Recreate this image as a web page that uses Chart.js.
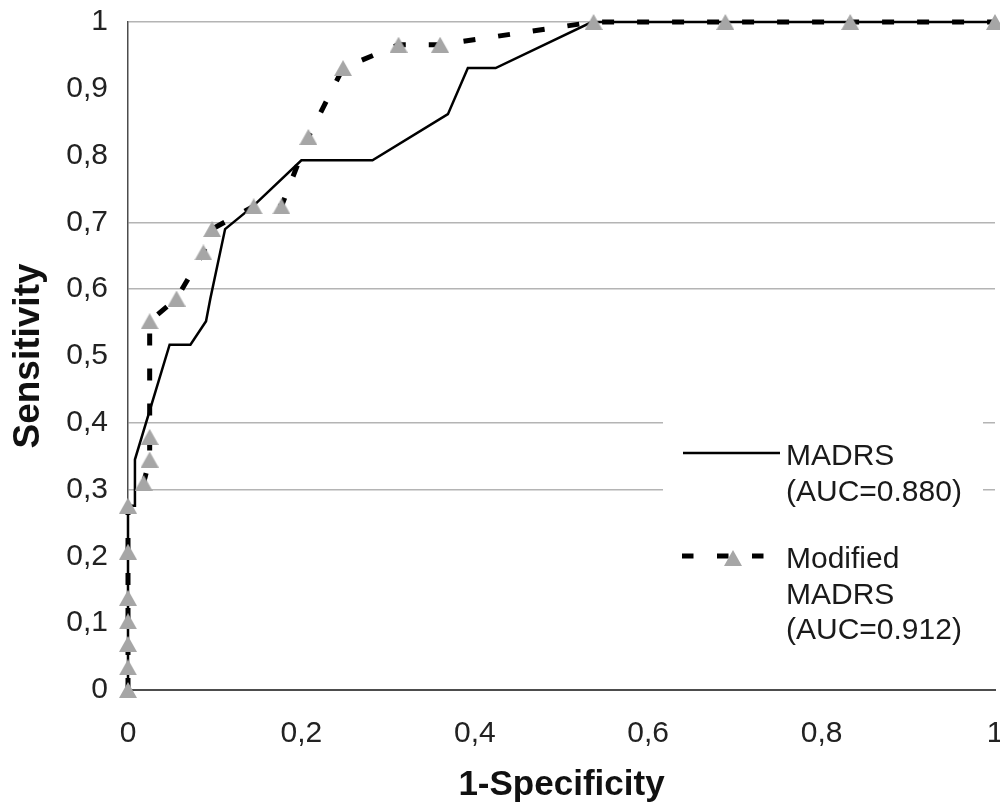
<!DOCTYPE html>
<html>
<head>
<meta charset="utf-8">
<title>ROC curves – MADRS vs Modified MADRS</title>
<script src="https://cdn.jsdelivr.net/npm/chart.js@4/dist/chart.umd.min.js"></script>
<style>
  html, body { margin: 0; padding: 0; background: #fff; overflow: hidden; }
  #wrap { width: 1000px; height: 808px; overflow: hidden; position: relative; }
  canvas { display: block; }
</style>
</head>
<body>
<div id="wrap"><canvas id="roc" width="1012" height="808"></canvas></div>
<script>
// ROC curve points: x = 1-specificity, y = sensitivity
const madrsFpr = [0, 0, 0.008, 0.008, 0.048, 0.072, 0.090, 0.095, 0.112, 0.144, 0.200, 0.282, 0.369, 0.392, 0.424, 0.535, 1];
const madrsTpr = [0, 0.276, 0.276, 0.345, 0.517, 0.517, 0.552, 0.586, 0.690, 0.724, 0.793, 0.793, 0.862, 0.931, 0.931, 1, 1];

const modFpr = [0, 0, 0, 0, 0, 0, 0, 0.018, 0.025, 0.025, 0.025, 0.056, 0.087, 0.097, 0.145, 0.177, 0.208, 0.248, 0.312, 0.360, 0.537, 0.689, 0.833, 1];
const modTpr = [0, 0.034, 0.069, 0.103, 0.138, 0.207, 0.276, 0.310, 0.345, 0.379, 0.552, 0.586, 0.655, 0.690, 0.724, 0.724, 0.828, 0.931, 0.966, 0.966, 1, 1, 1, 1];

// Axis tick labels (decimal comma)
const xTickLabels = ['0', '0,2', '0,4', '0,6', '0,8', '1'];
const yTickLabels = ['0', '0,1', '0,2', '0,3', '0,4', '0,5', '0,6', '0,7', '0,8', '0,9', '1'];
// Horizontal guide lines that are drawn
const yGridShown = [0.3, 0.4, 0.6, 0.7, 1];

// Legend text
const legendLines = [
  ['MADRS', '(AUC=0.880)'],
  ['Modified', 'MADRS', '(AUC=0.912)']
];

const FONT = '"Liberation Sans", Arial, Helvetica, sans-serif';
const TRI_GRAY = '#a6a6a6';

// Grey triangle marker, centred on its bounding box
const tri = document.createElement('canvas');
tri.width = 18; tri.height = 16;
(function () {
  const t = tri.getContext('2d');
  t.fillStyle = TRI_GRAY;
  t.beginPath();
  t.moveTo(9, 0);
  t.lineTo(18, 16);
  t.lineTo(0, 16);
  t.closePath();
  t.fill();
})();

const toPoints = (xs, ys) => xs.map((x, i) => ({ x, y: ys[i] }));

// Legend drawn inside the plot, lower right, on a white panel
const legendPanel = {
  id: 'legendPanel',
  afterDatasetsDraw(chart) {
    const a = chart.chartArea;
    const c = chart.ctx;
    const x0 = a.right - 332;   // panel left
    const y0 = a.top + 392;     // panel top
    c.save();
    c.fillStyle = '#fff';
    c.fillRect(x0, y0, 320, 248);

    // solid sample
    c.strokeStyle = '#000';
    c.lineWidth = 2.5;
    c.beginPath();
    c.moveTo(x0 + 20, y0 + 39);
    c.lineTo(x0 + 117, y0 + 39);
    c.stroke();

    // dashed sample with marker
    c.lineWidth = 5;
    c.setLineDash([11.5, 23.5]);
    c.beginPath();
    c.moveTo(x0 + 19, y0 + 142);
    c.lineTo(x0 + 103, y0 + 142);
    c.stroke();
    c.setLineDash([]);
    c.drawImage(tri, x0 + 70 - tri.width / 2, y0 + 144 - tri.height / 2);

    // labels
    c.fillStyle = '#1a1a1a';
    c.font = '30px ' + FONT;
    c.textAlign = 'left';
    c.textBaseline = 'alphabetic';
    const tx = x0 + 123;
    const starts = [y0 + 51, y0 + 154];
    legendLines.forEach((lines, k) => {
      lines.forEach((s, j) => c.fillText(s, tx, starts[k] + j * 35.5));
    });
    c.restore();
  }
};

new Chart(document.getElementById('roc'), {
  type: 'scatter',
  data: {
    datasets: [
      {
        label: 'Modified MADRS',
        data: toPoints(modFpr, modTpr),
        showLine: true,
        borderColor: '#000',
        borderWidth: 5,
        borderDash: [12, 23],
        pointStyle: tri,
        pointRadius: 9,
        pointHoverRadius: 9,
        tension: 0,
        clip: false,
        order: 0
      },
      {
        label: 'MADRS',
        data: toPoints(madrsFpr, madrsTpr),
        showLine: true,
        borderColor: '#000',
        borderWidth: 2.5,
        pointRadius: 0,
        pointHoverRadius: 0,
        tension: 0,
        clip: false,
        order: 1
      }
    ]
  },
  options: {
    responsive: false,
    animation: false,
    events: [],
    layout: { padding: { left: 0, right: 17, top: 22, bottom: 0 } },
    plugins: {
      legend: { display: false },
      tooltip: { enabled: false }
    },
    scales: {
      x: {
        type: 'linear',
        min: 0, max: 1,
        afterFit(scale) {
          scale.height = 118;
          scale.paddingLeft = 0;
          scale.paddingRight = 0;
        },
        ticks: {
          stepSize: 0.2,
          padding: 26,
          color: '#222',
          font: { family: FONT, size: 30 },
          maxRotation: 0,
          callback: v => xTickLabels[Math.round(v * 5)]
        },
        grid: { display: false, drawTicks: false },
        border: { display: true, color: '#4d4d4d', width: 2 },
        title: {
          display: true,
          text: '1-Specificity',
          color: '#111',
          font: { family: FONT, size: 35, weight: 'bold', lineHeight: 1.2 },
          padding: { top: 0, bottom: 2 }
        }
      },
      y: {
        type: 'linear',
        min: 0, max: 1,
        afterFit(scale) {
          scale.width = 128;
          scale.paddingTop = 0;
          scale.paddingBottom = 0;
        },
        ticks: {
          stepSize: 0.1,
          padding: 20,
          color: '#222',
          font: { family: FONT, size: 30 },
          callback: v => yTickLabels[Math.round(v * 10)]
        },
        grid: {
          drawTicks: false,
          lineWidth: 1.5,
          color: ctx => (ctx.tick && yGridShown.includes(Math.round(ctx.tick.value * 10) / 10))
            ? '#b4b4b4' : 'rgba(0,0,0,0)'
        },
        border: { display: true, color: '#4d4d4d', width: 1.5 },
        title: {
          display: true,
          text: 'Sensitivity',
          color: '#111',
          font: { family: FONT, size: 37, weight: 'bold', lineHeight: 1.2 },
          padding: { top: 7, bottom: 0 }
        }
      }
    }
  },
  plugins: [legendPanel]
});
</script>
</body>
</html>
